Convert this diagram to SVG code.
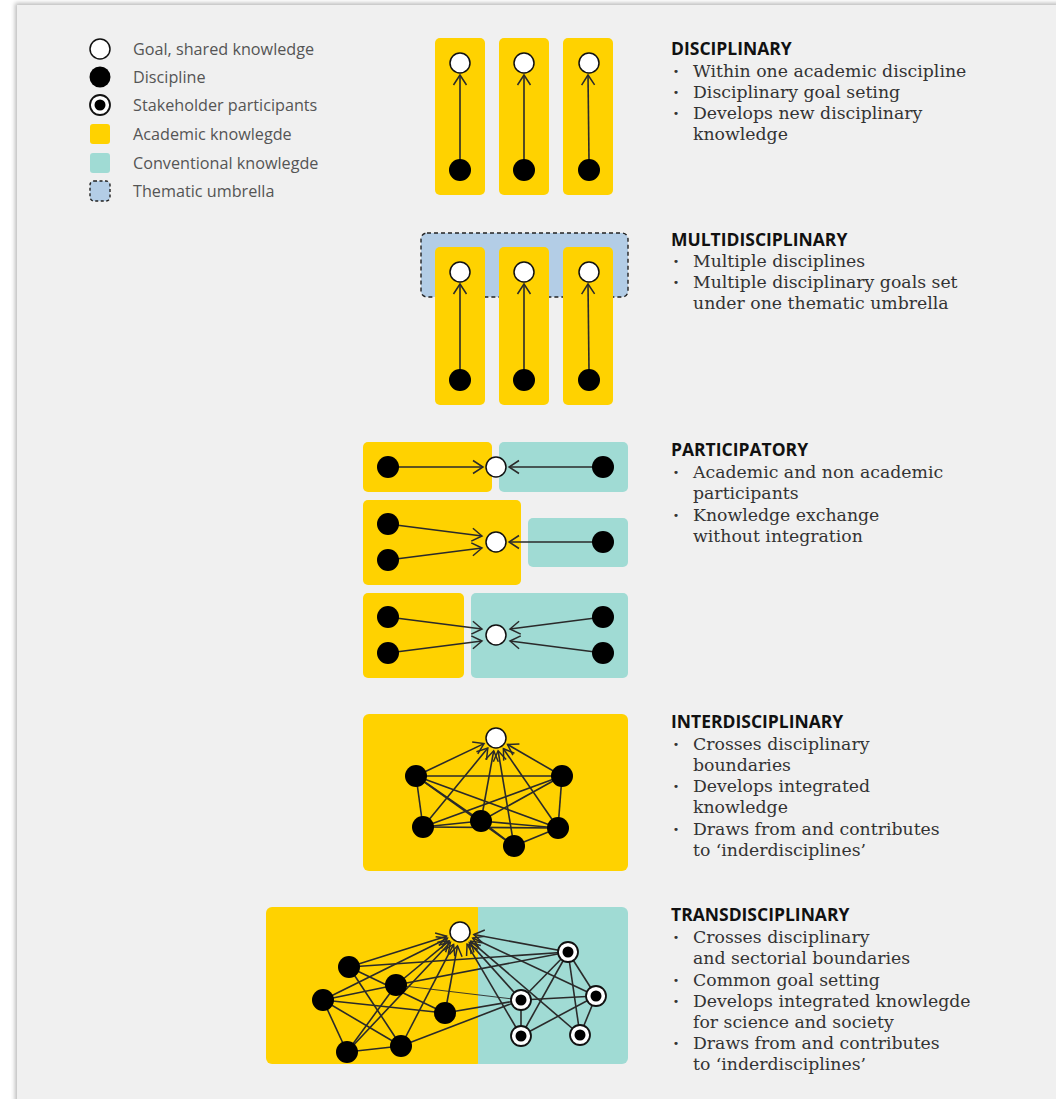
<svg xmlns="http://www.w3.org/2000/svg" width="1056" height="1099" viewBox="0 0 1056 1099">
<defs>
<marker id="ah" markerUnits="userSpaceOnUse" markerWidth="14" markerHeight="16" refX="11" refY="8" orient="auto">
<path d="M1,1.5 L11,8 L1,14.5" fill="none" stroke="#2a2a2a" stroke-width="1.5"/>
</marker>
<filter id="sh" x="-5%" y="-5%" width="110%" height="110%"><feGaussianBlur stdDeviation="2"/></filter>
</defs>
<style>
.leg{font-family:"Open Sans","Liberation Sans",sans-serif;font-size:16.2px;fill:#555}
.ttl{font-family:"Open Sans","Liberation Sans",sans-serif;font-size:17.5px;font-weight:bold;fill:#111}
.txt{font-family:"DejaVu Serif","Liberation Serif",serif;font-size:17.3px;fill:#333}
.bul{font-weight:bold}
.yel{fill:#FFD200}
.teal{fill:#A0DBD4}
.goal{fill:#fff;stroke:#111;stroke-width:1.5}
.disc{fill:#000}
.stk{fill:#fff;stroke:#111;stroke-width:1.8}
.ln{stroke:#2a2a2a;stroke-width:1.6;fill:none}
.ar{stroke:#2a2a2a;stroke-width:1.6;fill:none;marker-end:url(#ah)}
</style>
<rect width="1056" height="1099" fill="#fff"/>
<rect x="15" y="3" width="1060" height="1110" fill="#bbb" filter="url(#sh)"/>
<rect x="17" y="5" width="1045" height="1100" fill="#f0f0f0"/>

<g id="legend">
<circle cx="100" cy="49" r="10" class="goal"/>
<circle cx="100" cy="77" r="10.5" class="disc"/>
<circle cx="100" cy="105" r="10" class="stk"/><circle cx="100" cy="105" r="5.5" class="disc"/>
<rect x="90" y="124" width="20" height="20" rx="3" class="yel"/>
<rect x="90" y="153" width="20" height="20" rx="3" class="teal"/>
<rect x="90" y="181" width="20" height="20" rx="4" fill="#B3CDE6" stroke="#222" stroke-width="1.4" stroke-dasharray="3,2.5"/>
<text x="133" y="55" class="leg">Goal, shared knowledge</text>
<text x="133" y="83" class="leg">Discipline</text>
<text x="133" y="111" class="leg">Stakeholder participants</text>
<text x="133" y="140" class="leg">Academic knowlegde</text>
<text x="133" y="169" class="leg">Conventional knowlegde</text>
<text x="133" y="197" class="leg">Thematic umbrella</text>
</g>

<g id="areas">
<rect x="435" y="38" width="50" height="157" rx="5" class="yel"/>
<rect x="499" y="38" width="50" height="157" rx="5" class="yel"/>
<rect x="563" y="38" width="50" height="157" rx="5" class="yel"/>
<rect x="421" y="233" width="207" height="64" rx="6" fill="#B3CDE6" stroke="#222" stroke-width="1.4" stroke-dasharray="4,3"/>
<rect x="435" y="247" width="50" height="158" rx="5" class="yel"/>
<rect x="499" y="247" width="50" height="158" rx="5" class="yel"/>
<rect x="563" y="247" width="50" height="158" rx="5" class="yel"/>
<rect x="363" y="442" width="129" height="50" rx="5" class="yel"/>
<rect x="499" y="442" width="129" height="50" rx="5" class="teal"/>
<rect x="363" y="500" width="158" height="85" rx="5" class="yel"/>
<rect x="528" y="518" width="100" height="49" rx="5" class="teal"/>
<rect x="363" y="593" width="101" height="85" rx="5" class="yel"/>
<rect x="471" y="593" width="157" height="85" rx="5" class="teal"/>
<rect x="363" y="714" width="265" height="157" rx="6" class="yel"/>
<rect x="266" y="907" width="217" height="157" rx="6" class="yel"/>
<rect x="478" y="907" width="150" height="157" rx="6" class="teal"/>
<rect x="478" y="907" width="8" height="157" class="teal"/>
</g>

<g id="connectors">
<line x1="460" y1="160" x2="460" y2="75" class="ar"/>
<line x1="524" y1="160" x2="524" y2="75" class="ar"/>
<line x1="589" y1="160" x2="588" y2="75" class="ar"/>
<line x1="460" y1="370" x2="460" y2="284" class="ar"/>
<line x1="524" y1="370" x2="524" y2="284" class="ar"/>
<line x1="589" y1="370" x2="588" y2="284" class="ar"/>
<line x1="388" y1="467" x2="483" y2="467" class="ar"/>
<line x1="603" y1="467" x2="509" y2="467" class="ar"/>
<line x1="388" y1="524" x2="482" y2="536" class="ar"/>
<line x1="388" y1="560" x2="482" y2="548" class="ar"/>
<line x1="603" y1="542" x2="509" y2="542" class="ar"/>
<line x1="388" y1="617" x2="482" y2="629" class="ar"/>
<line x1="388" y1="653" x2="482" y2="641" class="ar"/>
<line x1="603" y1="617" x2="510" y2="629" class="ar"/>
<line x1="603" y1="653" x2="510" y2="641" class="ar"/>
<line x1="416" y1="776" x2="562" y2="776" class="ln"/>
<line x1="416" y1="776" x2="423" y2="827" class="ln"/>
<line x1="416" y1="776" x2="481" y2="821" class="ln"/>
<line x1="416" y1="776" x2="558" y2="828" class="ln"/>
<line x1="416" y1="776" x2="514" y2="846" class="ln"/>
<line x1="562" y1="776" x2="423" y2="827" class="ln"/>
<line x1="562" y1="776" x2="481" y2="821" class="ln"/>
<line x1="562" y1="776" x2="558" y2="828" class="ln"/>
<line x1="423" y1="827" x2="481" y2="821" class="ln"/>
<line x1="423" y1="827" x2="558" y2="828" class="ln"/>
<line x1="481" y1="821" x2="514" y2="846" class="ln"/>
<line x1="481" y1="821" x2="558" y2="828" class="ln"/>
<line x1="514" y1="846" x2="558" y2="828" class="ln"/>
<line x1="416" y1="776" x2="484" y2="743.6" class="ar"/>
<line x1="562" y1="776" x2="507.5" y2="744.5" class="ar"/>
<line x1="423" y1="827" x2="487.8" y2="748.1" class="ar"/>
<line x1="481" y1="821" x2="493.7" y2="750.8" class="ar"/>
<line x1="514" y1="846" x2="498.1" y2="750.8" class="ar"/>
<line x1="558" y1="828" x2="503.4" y2="748.7" class="ar"/>
<line x1="349" y1="967" x2="568" y2="952" class="ln"/>
<line x1="396" y1="985" x2="568" y2="952" class="ln"/>
<line x1="349" y1="967" x2="445" y2="1013" class="ln"/>
<line x1="349" y1="967" x2="401" y2="1046" class="ln"/>
<line x1="323" y1="1000" x2="396" y2="985" class="ln"/>
<line x1="323" y1="1000" x2="445" y2="1013" class="ln"/>
<line x1="323" y1="1000" x2="401" y2="1046" class="ln"/>
<line x1="323" y1="1000" x2="347" y2="1052" class="ln"/>
<line x1="396" y1="985" x2="347" y2="1052" class="ln"/>
<line x1="347" y1="1052" x2="401" y2="1046" class="ln"/>
<line x1="396" y1="985" x2="521" y2="1000" stroke="#2a2a2a" stroke-width="0.9"/>
<line x1="445" y1="1013" x2="521" y2="1000" class="ln"/>
<line x1="401" y1="1046" x2="521" y2="1000" class="ln"/>
<line x1="568" y1="952" x2="521" y2="1000" class="ln"/>
<line x1="568" y1="952" x2="521" y2="1036" class="ln"/>
<line x1="568" y1="952" x2="596" y2="996" class="ln"/>
<line x1="568" y1="952" x2="580" y2="1035" class="ln"/>
<line x1="521" y1="1000" x2="596" y2="996" class="ln"/>
<line x1="521" y1="1000" x2="521" y2="1036" class="ln"/>
<line x1="521" y1="1036" x2="596" y2="996" class="ln"/>
<line x1="596" y1="996" x2="580" y2="1035" class="ln"/>
<line x1="349" y1="967" x2="446.6" y2="936.2" class="ar"/>
<line x1="396" y1="985" x2="449.2" y2="940.9" class="ar"/>
<line x1="323" y1="1000" x2="447.5" y2="938.2" class="ar"/>
<line x1="445" y1="1013" x2="457.5" y2="945.8" class="ar"/>
<line x1="347" y1="1052" x2="450.4" y2="942.2" class="ar"/>
<line x1="401" y1="1046" x2="453.6" y2="944.4" class="ar"/>
<line x1="568" y1="952" x2="473.8" y2="934.5" class="ar"/>
<line x1="521" y1="1000" x2="469.3" y2="942.4" class="ar"/>
<line x1="596" y1="996" x2="472.7" y2="938" class="ar"/>
<line x1="521" y1="1036" x2="467.1" y2="944.1" class="ar"/>
<line x1="580" y1="1035" x2="470.6" y2="941.1" class="ar"/>
</g>

<g id="nodes">
<g id="disc-goals"><circle cx="460" cy="63" r="10" class="goal"/><circle cx="524" cy="63" r="10" class="goal"/><circle cx="589" cy="63" r="10" class="goal"/></g>
<g id="disc-nodes"><circle cx="460" cy="170" r="11" class="disc"/><circle cx="524" cy="170" r="11" class="disc"/><circle cx="589" cy="170" r="11" class="disc"/></g>
<g id="multi-goals"><circle cx="460" cy="272" r="10" class="goal"/><circle cx="524" cy="272" r="10" class="goal"/><circle cx="589" cy="272" r="10" class="goal"/></g>
<g id="multi-nodes"><circle cx="460" cy="380" r="11" class="disc"/><circle cx="524" cy="380" r="11" class="disc"/><circle cx="589" cy="380" r="11" class="disc"/></g>
<g id="part-1"><circle cx="388" cy="467" r="11" class="disc"/><circle cx="496" cy="467" r="10" class="goal"/><circle cx="603" cy="467" r="11" class="disc"/></g>
<g id="part-2"><circle cx="388" cy="524" r="11" class="disc"/><circle cx="388" cy="560" r="11" class="disc"/><circle cx="496" cy="542" r="10" class="goal"/><circle cx="603" cy="542" r="11" class="disc"/></g>
<g id="part-3"><circle cx="388" cy="617" r="11" class="disc"/><circle cx="388" cy="653" r="11" class="disc"/><circle cx="496" cy="635" r="10" class="goal"/><circle cx="603" cy="617" r="11" class="disc"/><circle cx="603" cy="653" r="11" class="disc"/></g>
<g id="inter"><circle cx="496" cy="738" r="10" class="goal"/><circle cx="416" cy="776" r="11" class="disc"/><circle cx="562" cy="776" r="11" class="disc"/><circle cx="423" cy="827" r="11" class="disc"/><circle cx="481" cy="821" r="11" class="disc"/><circle cx="558" cy="828" r="11" class="disc"/><circle cx="514" cy="846" r="11" class="disc"/></g>
<g id="trans"><circle cx="460" cy="932" r="10" class="goal"/>
<circle cx="349" cy="967" r="11" class="disc"/><circle cx="396" cy="985" r="11" class="disc"/><circle cx="323" cy="1000" r="11" class="disc"/><circle cx="445" cy="1013" r="11" class="disc"/><circle cx="347" cy="1052" r="11" class="disc"/><circle cx="401" cy="1046" r="11" class="disc"/>
<circle cx="568" cy="952" r="10" class="stk"/><circle cx="568" cy="952" r="5.5" class="disc"/>
<circle cx="521" cy="1000" r="10" class="stk"/><circle cx="521" cy="1000" r="5.5" class="disc"/>
<circle cx="596" cy="996" r="10" class="stk"/><circle cx="596" cy="996" r="5.5" class="disc"/>
<circle cx="521" cy="1036" r="10" class="stk"/><circle cx="521" cy="1036" r="5.5" class="disc"/>
<circle cx="580" cy="1035" r="10" class="stk"/><circle cx="580" cy="1035" r="5.5" class="disc"/>
</g>
</g>

<g id="descriptions">
<text x="671" y="55" class="ttl">DISCIPLINARY</text>
<text class="txt"><tspan x="673" y="77" class="bul">·</tspan><tspan x="693" y="77">Within one academic discipline</tspan><tspan x="673" y="98" class="bul">·</tspan><tspan x="693" y="98">Disciplinary goal seting</tspan><tspan x="673" y="119" class="bul">·</tspan><tspan x="693" y="119">Develops new disciplinary</tspan><tspan x="693" y="140">knowledge</tspan></text>
<text x="671" y="246" class="ttl">MULTIDISCIPLINARY</text>
<text class="txt"><tspan x="673" y="267" class="bul">·</tspan><tspan x="693" y="267">Multiple disciplines</tspan><tspan x="673" y="288" class="bul">·</tspan><tspan x="693" y="288">Multiple disciplinary goals set</tspan><tspan x="693" y="309">under one thematic umbrella</tspan></text>
<text x="671" y="456" class="ttl">PARTICIPATORY</text>
<text class="txt"><tspan x="673" y="478" class="bul">·</tspan><tspan x="693" y="478">Academic and non academic</tspan><tspan x="693" y="499">participants</tspan><tspan x="673" y="521" class="bul">·</tspan><tspan x="693" y="521">Knowledge exchange</tspan><tspan x="693" y="542">without integration</tspan></text>
<text x="671" y="728" class="ttl">INTERDISCIPLINARY</text>
<text class="txt"><tspan x="673" y="750" class="bul">·</tspan><tspan x="693" y="750">Crosses disciplinary</tspan><tspan x="693" y="771">boundaries</tspan><tspan x="673" y="792" class="bul">·</tspan><tspan x="693" y="792">Develops integrated</tspan><tspan x="693" y="813">knowledge</tspan><tspan x="673" y="835" class="bul">·</tspan><tspan x="693" y="835">Draws from and contributes</tspan><tspan x="693" y="856">to ‘inderdisciplines’</tspan></text>
<text x="671" y="921" class="ttl">TRANSDISCIPLINARY</text>
<text class="txt"><tspan x="673" y="943" class="bul">·</tspan><tspan x="693" y="943">Crosses disciplinary</tspan><tspan x="693" y="964">and sectorial boundaries</tspan><tspan x="673" y="986" class="bul">·</tspan><tspan x="693" y="986">Common goal setting</tspan><tspan x="673" y="1007" class="bul">·</tspan><tspan x="693" y="1007">Develops integrated knowlegde</tspan><tspan x="693" y="1028">for science and society</tspan><tspan x="673" y="1049" class="bul">·</tspan><tspan x="693" y="1049">Draws from and contributes</tspan><tspan x="693" y="1070">to ‘inderdisciplines’</tspan></text>
</g>
</svg>
